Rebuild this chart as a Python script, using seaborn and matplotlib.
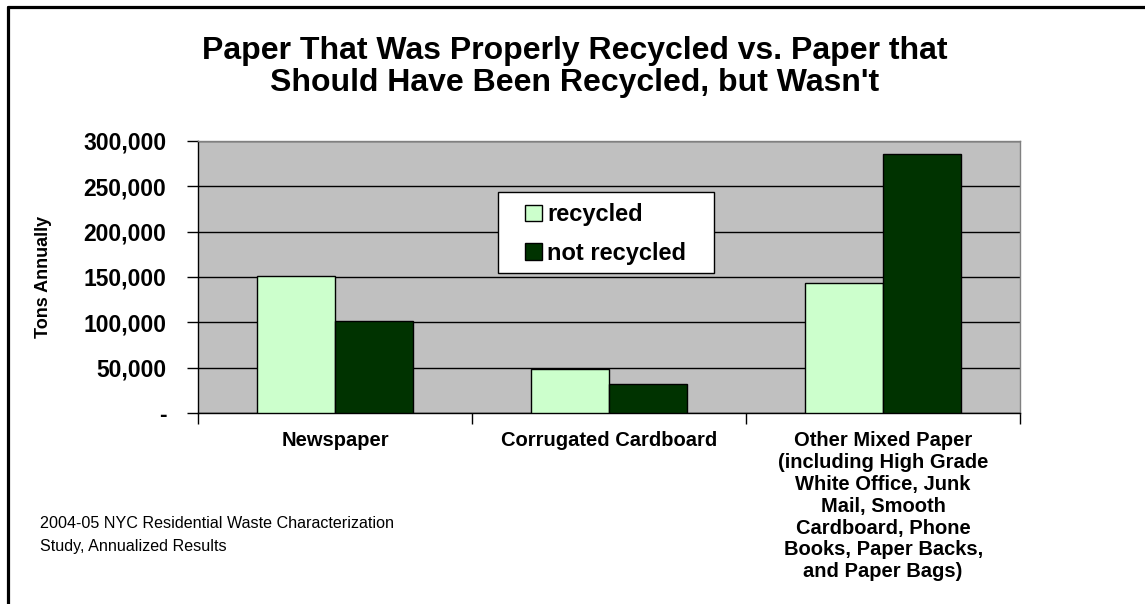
import pandas as pd
import matplotlib
matplotlib.use('Agg')
import matplotlib.pyplot as plt
import matplotlib.ticker as mticker
from matplotlib.lines import Line2D
from matplotlib.patches import Rectangle
import seaborn as sns

# Data
categories = ['Newspaper', 'Corrugated Cardboard',
              'Other Mixed Paper\n(including High Grade\nWhite Office, Junk\nMail, Smooth\nCardboard, Phone\nBooks, Paper Backs,\nand Paper Bags)']
recycled = [151500, 49000, 143800]
not_recycled = [102000, 32300, 285400]
series = ['recycled', 'not recycled']
colors = ['#CCFFCC', '#003300']

df = pd.DataFrame({
    'category': categories * 2,
    'tons': recycled + not_recycled,
    'status': [series[0]] * 3 + [series[1]] * 3,
})

sns.set_style('white')
plt.rcParams['font.family'] = ['Liberation Sans', 'DejaVu Sans']
plt.rcParams['text.color'] = 'black'
plt.rcParams['axes.labelcolor'] = 'black'
plt.rcParams['xtick.color'] = 'black'
plt.rcParams['ytick.color'] = 'black'

fig = plt.figure(figsize=(11.45, 6.04), dpi=100)
ax = fig.add_axes([0.173, 0.316, 0.718, 0.451])
ax.set_facecolor('#C0C0C0')

sns.barplot(data=df, x='category', y='tons', hue='status', palette=colors,
            saturation=1, width=0.57, gap=0, edgecolor='black', linewidth=1.0,
            ax=ax, legend=True, zorder=3)

ax.set_ylim(0, 300000)
ax.set_xlim(-0.5, 2.5)
ax.yaxis.set_major_locator(mticker.MultipleLocator(50000))
ax.yaxis.set_major_formatter(mticker.FuncFormatter(lambda v, p: '-' if v == 0 else f'{int(v):,}'))
ax.grid(axis='y', color='black', linewidth=1.0, zorder=1)
ax.set_axisbelow(True)

# spines: black left/bottom, gray top/right
for s in ['left', 'bottom']:
    ax.spines[s].set_color('black')
    ax.spines[s].set_linewidth(1.0)
for s in ['top', 'right']:
    ax.spines[s].set_color('#808080')
    ax.spines[s].set_linewidth(1.0)

ax.tick_params(axis='y', direction='out', length=8, width=1, color='black',
               labelsize=16.5, pad=15, left=True)
for lbl in ax.get_yticklabels():
    lbl.set_fontweight('bold')

# x labels at category centers, tick marks at category boundaries
ax.set_xticks([0, 1, 2])
ax.set_xticklabels(categories, fontsize=14.5, fontweight='bold', va='top',
                   linespacing=1.19)
ax.tick_params(axis='x', length=0, pad=13)
ax.set_xticks([-0.5, 0.5, 1.5, 2.5], minor=True)
ax.tick_params(axis='x', which='minor', direction='out', length=8, width=1, color='black', bottom=True)

ax.set_xlabel('')
ax.set_ylabel('Tons Annually', fontsize=13, fontweight='bold', labelpad=22)

# legend: white box drawn separately, entries placed inside
ax.add_patch(Rectangle((0.365, 0.515), 0.262, 0.2975, transform=ax.transAxes,
                       facecolor='white', edgecolor='black', linewidth=1.0,
                       zorder=4, clip_on=False))
leg = ax.legend(loc='center left', bbox_to_anchor=(0.398, 0.658), ncol=1,
                frameon=False, prop={'size': 17, 'weight': 'bold'},
                handlelength=0.72, handleheight=0.72, handletextpad=0.22,
                labelspacing=0.65, borderpad=0, borderaxespad=0)
leg.set_zorder(5)

fig.text(0.502, 0.889, "Paper That Was Properly Recycled vs. Paper that\nShould Have Been Recycled, but Wasn't",
         ha='center', va='center', fontsize=23, fontweight='bold', linespacing=1.05)

fig.text(0.035, 0.114, '2004-05 NYC Residential Waste Characterization\nStudy, Annualized Results',
         ha='left', va='center', fontsize=11.6, linespacing=1.7)

# outer frame lines (top and left)
fig.add_artist(Line2D([0.0066, 1.0], [0.9885, 0.9885], transform=fig.transFigure, color='black', linewidth=2.3))
fig.add_artist(Line2D([0.0070, 0.0070], [0.0, 0.989], transform=fig.transFigure, color='black', linewidth=2.3))

fig.savefig('out.png', dpi=100)
